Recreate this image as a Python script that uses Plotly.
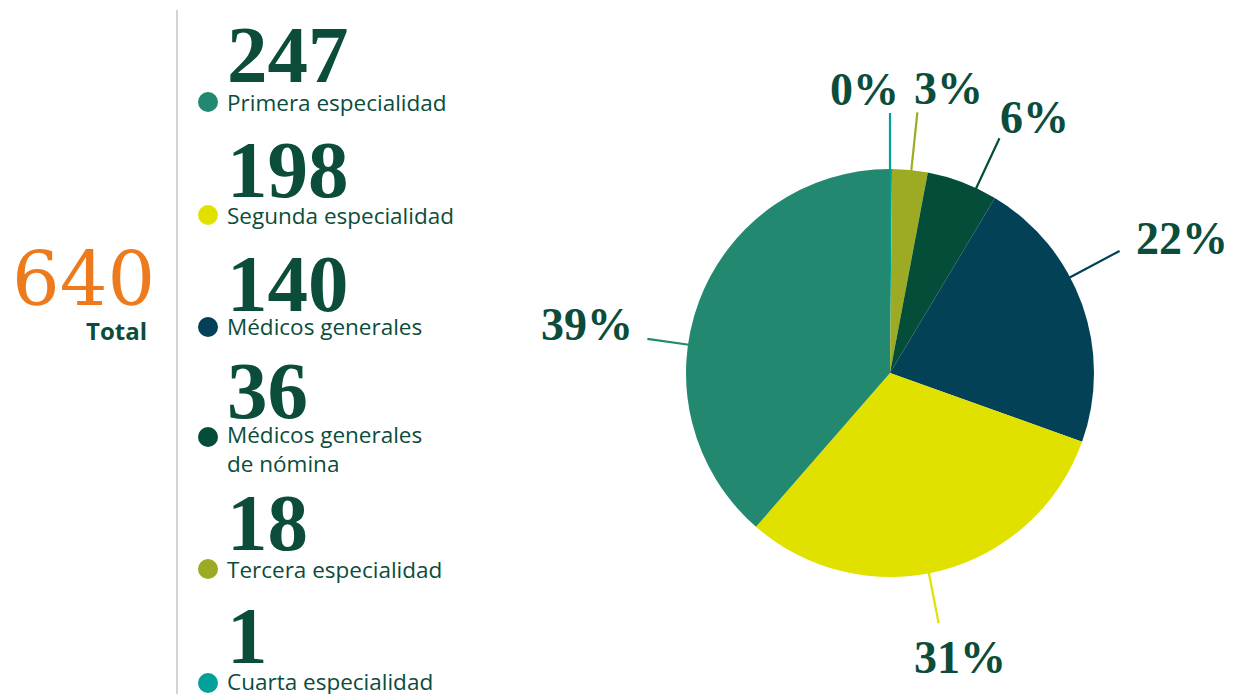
import numpy as np
import plotly.graph_objects as go

# data
categories = ["Primera especialidad", "Segunda especialidad", "Médicos generales",
              "Médicos generales<br>de nómina", "Tercera especialidad", "Cuarta especialidad"]
values = [247, 198, 140, 36, 18, 1]
total = 640
total_label = "Total"
colors = ["#22886F", "#E1E100", "#034157", "#044D38", "#9DAB24", "#00A19A"]

# layout (pixels)
W, H = 1239, 694
CX, CY, R = 890, 373, 204
row_num_y = [56, 171, 285, 392, 524, 637]
row_lab_y = [102, 215, 327, 449, 569, 681]
row_dot_y = [102, 215, 327, 437, 569, 683]
lead_angle = [278, 169, 62, 25, 6, 0]          # where leader leaves the pie
lead_end = [245, 255, 260, 259, 262, 260]      # leader outer radius
lab_angle = [279.4, 166, 65, 29.3, 11.5, -5]
lab_rad = [307, 291, 322, 295, 292, 287]

DARK = "#0B4D3A"
SERIF = "Liberation Serif"
SANS = "Open Sans"


def px(x):
    return x / W


def py(y):
    return 1 - y / H


def polar(ang, r):
    a = np.radians(ang)
    return CX + r * np.sin(a), CY - r * np.cos(a)


fig = go.Figure()

# pie: clockwise from 12 o'clock, smallest first
order = list(range(len(values)))[::-1]
fig.add_trace(go.Pie(
    labels=[categories[i] for i in order],
    values=[values[i] for i in order],
    marker=dict(colors=[colors[i] for i in order], line=dict(width=0)),
    sort=False, direction="clockwise", rotation=0,
    textinfo="none", hoverinfo="label+value",
    domain=dict(x=[px(CX - R), px(CX + R)], y=[py(CY + R), py(CY - R)]),
    showlegend=False,
))

shapes = []
annotations = []

# percentage labels with leader lines
for i, v in enumerate(values):
    pct = round(v / total * 100)
    x0, y0 = polar(lead_angle[i], R - 1)
    x1, y1 = polar(lead_angle[i], lead_end[i])
    shapes.append(dict(type="line", xref="paper", yref="paper",
                       x0=px(x0), y0=py(y0), x1=px(x1), y1=py(y1),
                       line=dict(color=colors[i], width=2.2)))
    lx, ly = polar(lab_angle[i], lab_rad[i])
    annotations.append(dict(text=f"<b>{pct}%</b>", x=px(lx), y=py(ly + 2),
                            xref="paper", yref="paper", showarrow=False,
                            xanchor="center", yanchor="middle",
                            font=dict(family=SERIF, size=46, color=DARK)))

# left legend column
for i, v in enumerate(values):
    annotations.append(dict(text=f"<b>{v}</b>", x=px(225), y=py(row_num_y[i] - 1),
                            xref="paper", yref="paper", showarrow=False,
                            xanchor="left", yanchor="middle",
                            font=dict(family=SERIF, size=81, color=DARK)))
    annotations.append(dict(text=categories[i], x=px(225), y=py(row_lab_y[i]),
                            xref="paper", yref="paper", showarrow=False,
                            xanchor="left", yanchor="middle", align="left",
                            font=dict(family=SANS, size=22.5, color=DARK)))
    shapes.append(dict(type="circle", xref="paper", yref="paper",
                       xsizemode="pixel", ysizemode="pixel",
                       xanchor=px(208), yanchor=py(row_dot_y[i]),
                       x0=-10, x1=10, y0=-10, y1=10,
                       fillcolor=colors[i], line=dict(width=0)))

# total block
annotations.append(dict(text=str(total), x=px(83), y=py(279),
                        xref="paper", yref="paper", showarrow=False,
                        xanchor="center", yanchor="middle",
                        font=dict(family="DejaVu Serif", size=75, color="#EE7A1E")))
annotations.append(dict(text=f"<b>{total_label}</b>", x=px(149), y=py(330),
                        xref="paper", yref="paper", showarrow=False,
                        xanchor="right", yanchor="middle",
                        font=dict(family=SANS, size=24, color=DARK)))
shapes.append(dict(type="line", xref="paper", yref="paper",
                   x0=px(177), x1=px(177), y0=py(10), y1=py(694),
                   line=dict(color="#AAAAAA", width=1)))

fig.update_layout(width=W, height=H, margin=dict(l=0, r=0, t=0, b=0),
                  paper_bgcolor="white", plot_bgcolor="white",
                  shapes=shapes, annotations=annotations)

fig.write_html("out.html", config={"displayModeBar": False},
               post_script="document.body.style.margin='0';"
                           "document.body.style.overflow='hidden';")
